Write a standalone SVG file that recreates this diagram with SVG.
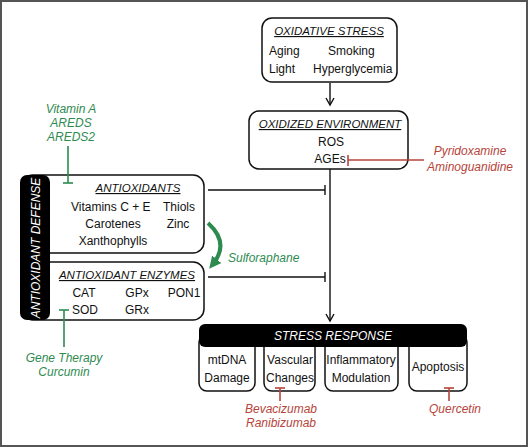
<svg xmlns="http://www.w3.org/2000/svg" width="528" height="447" viewBox="0 0 528 447">
<defs>
<style>
text{font-family:"Liberation Sans",Arial,sans-serif;font-size:12px;fill:#111}
.t{font-style:italic;text-decoration:underline;font-size:11.5px}
.w{fill:#fff;font-style:italic;font-size:12px}
.g{fill:#2e8b50;font-style:italic}
.r{fill:#b5453a;font-style:italic}
.box{fill:#fff;stroke:#111;stroke-width:1.5}
.ln{stroke:#111;stroke-width:1.4;fill:none}
.gl{stroke:#2e8b50;stroke-width:1.6;fill:none}
.rl{stroke:#b5453a;stroke-width:1.6;fill:none}
</style>
<marker id="ah" markerWidth="10" markerHeight="10" refX="8" refY="5" orient="auto" markerUnits="userSpaceOnUse">
<path d="M1,1 L8,5 L1,9" fill="none" stroke="#111" stroke-width="1.4"/>
</marker>
<marker id="gah" markerWidth="12" markerHeight="12" refX="6" refY="6" orient="auto" markerUnits="userSpaceOnUse">
<path d="M0,0 L12,6 L0,12 Z" fill="#2e8b50"/>
</marker>
</defs>
<rect x="1" y="1" width="526" height="445" fill="#fff" stroke="#555" stroke-width="2"/>

<g id="oxidative-stress">
<rect class="box" x="262" y="18" width="135" height="64" rx="10"/>
<text class="t" x="329" y="35" text-anchor="middle">OXIDATIVE STRESS</text>
<text x="269" y="55">Aging</text>
<text x="328" y="55">Smoking</text>
<text x="269" y="73">Light</text>
<text x="313" y="73">Hyperglycemia</text>
</g>

<g id="oxidized-environment">
<rect class="box" x="249" y="111" width="159" height="58" rx="10"/>
<text class="t" x="330" y="128" text-anchor="middle">OXIDIZED ENVIRONMENT</text>
<text x="331" y="146" text-anchor="middle">ROS</text>
<text x="330" y="163" text-anchor="middle">AGEs</text>
</g>

<g id="pyridoxamine">
<text class="r" x="470" y="155" text-anchor="middle">Pyridoxamine</text>
<text class="r" x="470" y="171" text-anchor="middle">Aminoguanidine</text>
</g>

<g id="antioxidants">
<rect class="box" x="22" y="175" width="182" height="78" rx="11"/>
<text class="t" x="138" y="192" text-anchor="middle">ANTIOXIDANTS</text>
<text x="71" y="211">Vitamins C + E</text>
<text x="163" y="211">Thiols</text>
<text x="113" y="228" text-anchor="middle">Carotenes</text>
<text x="178" y="228" text-anchor="middle">Zinc</text>
<text x="113" y="245" text-anchor="middle">Xanthophylls</text>
</g>

<g id="antioxidant-enzymes">
<rect class="box" x="22" y="262" width="182" height="58" rx="11"/>
<text class="t" x="127" y="279" text-anchor="middle">ANTIOXIDANT ENZYMES</text>
<text x="84" y="297" text-anchor="middle">CAT</text>
<text x="137" y="297" text-anchor="middle">GPx</text>
<text x="184" y="297" text-anchor="middle">PON1</text>
<text x="72" y="314">SOD</text>
<text x="137" y="314" text-anchor="middle">GRx</text>
</g>

<g id="antioxidant-defense">
<rect x="20" y="175" width="30" height="145" rx="7" fill="#000"/>
<text class="w" transform="translate(40,248) rotate(-90)" text-anchor="middle">ANTIOXIDANT DEFENSE</text>
</g>

<g id="vitamin-a">
<text class="g" x="71" y="113" text-anchor="middle">Vitamin A</text>
<text class="g" x="71" y="127" text-anchor="middle">AREDS</text>
<text class="g" x="71" y="141" text-anchor="middle">AREDS2</text>
</g>

<g id="gene-therapy">
<text class="g" x="64" y="362" text-anchor="middle">Gene Therapy</text>
<text class="g" x="64" y="376" text-anchor="middle">Curcumin</text>
</g>

<g id="sulforaphane">
<text class="g" x="228" y="262">Sulforaphane</text>
</g>

<g id="mtdna">
<rect class="box" x="199" y="335" width="56" height="56" rx="8"/>
<text x="227" y="364" text-anchor="middle">mtDNA</text>
<text x="227" y="382" text-anchor="middle">Damage</text>
</g>
<g id="vascular">
<rect class="box" x="264" y="335" width="51" height="56" rx="8"/>
<text x="290" y="364" text-anchor="middle">Vascular</text>
<text x="290" y="382" text-anchor="middle">Changes</text>
</g>
<g id="inflammatory">
<rect class="box" x="325" y="335" width="73" height="56" rx="8"/>
<text x="361" y="364" text-anchor="middle">Inflammatory</text>
<text x="361" y="382" text-anchor="middle">Modulation</text>
</g>
<g id="apoptosis">
<rect class="box" x="409" y="335" width="58" height="56" rx="8"/>
<text x="438" y="371" text-anchor="middle">Apoptosis</text>
</g>

<g id="stress-response">
<rect x="199" y="324" width="268" height="23" rx="6" fill="#000"/>
<text class="w" x="333" y="340" text-anchor="middle">STRESS RESPONSE</text>
</g>

<g id="bevacizumab">
<text class="r" x="281" y="413" text-anchor="middle">Bevacizumab</text>
<text class="r" x="281" y="427" text-anchor="middle">Ranibizumab</text>
</g>
<g id="quercetin">
<text class="r" x="455" y="413" text-anchor="middle">Quercetin</text>
</g>

<g id="connectors">
<line class="ln" x1="330" y1="83" x2="330" y2="105" marker-end="url(#ah)"/>
<line class="ln" x1="330" y1="169" x2="330" y2="321" marker-end="url(#ah)"/>
<line class="ln" x1="208" y1="190" x2="325" y2="190"/>
<line class="ln" x1="325" y1="185" x2="325" y2="195"/>
<line class="ln" x1="208" y1="277" x2="325" y2="277"/>
<line class="ln" x1="325" y1="272" x2="325" y2="282"/>
<line class="rl" x1="348" y1="160" x2="424" y2="160"/>
<line class="rl" x1="348" y1="155" x2="348" y2="166"/>
<line class="gl" x1="68" y1="146" x2="68" y2="183"/>
<line class="gl" x1="63" y1="183" x2="73" y2="183"/>
<line class="gl" x1="64" y1="347" x2="64" y2="310"/>
<line class="gl" x1="59" y1="310" x2="69" y2="310"/>
<path d="M208,223 Q230,243 213,264" fill="none" stroke="#2e8b50" stroke-width="4" marker-end="url(#gah)"/>
<line class="rl" x1="280" y1="388" x2="280" y2="401"/>
<line class="rl" x1="275" y1="388" x2="285" y2="388"/>
<line class="rl" x1="449" y1="388" x2="449" y2="401"/>
<line class="rl" x1="444" y1="388" x2="454" y2="388"/>
</g>
</svg>
